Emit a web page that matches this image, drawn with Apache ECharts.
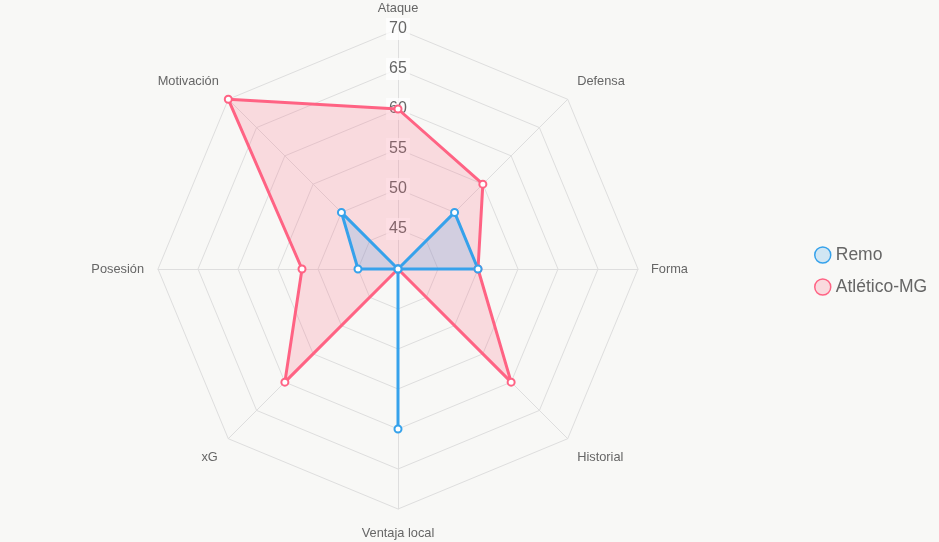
<!DOCTYPE html>
<html><head><meta charset="utf-8">
<script src="https://cdn.jsdelivr.net/npm/echarts@6/dist/echarts.min.js"></script>
<style>html,body{margin:0;padding:0;background:#f8f8f6}#c{width:939px;height:542px}</style>
</head><body><div id="c"></div>
<script>
// Clockwise order from top, as in the picture
const categories = ['Ataque','Defensa','Forma','Historial','Ventaja local','xG','Posesión','Motivación'];
const remo = [40, 50, 50, 40, 60, 40, 45, 50];
const atletico = [60, 55, 50, 60, 40, 60, 52, 70];
const tickLabels = [45, 50, 55, 60, 65, 70];
const axisMin = 40, axisMax = 70, axisStep = 5;

// ECharts radar goes counter-clockwise; reorder to keep clockwise layout
function ccw(arr){ return [arr[0]].concat(arr.slice(1).reverse()); }

// per-label nudges (padding) to mimic the reference label placement
const namePad = {
  'Ataque': [0,0,2,0], 'Defensa': [0,0,18,1], 'Forma': [0,0,0,1], 'Historial': [20,0,0,1],
  'Ventaja local': [6,0,0,0], 'xG': [20,2,0,0], 'Posesión': [0,2,0,0], 'Motivación': [0,1,18,0]
};
const rich = {};
categories.forEach((c, i) => {
  rich['n' + i] = {color: '#666', fontSize: 12.8, fontFamily: 'Liberation Sans, Arial', padding: namePad[c]};
});

const chart = echarts.init(document.getElementById('c'));
const center = [398, 269], radius = 240;
chart.setOption({
  backgroundColor: '#f8f8f6',
  animation: false,
  legend: {
    orient: 'vertical', left: 809, top: 241,
    itemWidth: 16, itemHeight: 16, itemGap: 14, icon: 'circle',
    textStyle: {color: '#666', fontSize: 17.5, fontFamily: 'Liberation Sans, Arial'},
    data: [
      {name: 'Remo', itemStyle: {color: 'rgba(54,162,235,0.2)', borderColor: '#36a2eb', borderWidth: 1.5}},
      {name: 'Atlético-MG', itemStyle: {color: 'rgba(255,99,132,0.2)', borderColor: '#ff6384', borderWidth: 1.5}}
    ]
  },
  radar: {
    center: center, radius: radius, startAngle: 90, shape: 'polygon', splitNumber: 6,
    indicator: ccw(categories).map(n => ({name: n, min: axisMin, max: axisMax})),
    axisName: {
      color: '#666', fontSize: 12.8, fontFamily: 'Liberation Sans, Arial', rich: rich,
      formatter: n => '{n' + categories.indexOf(n) + '|' + n + '}'
    },
    nameGap: 12,
    splitArea: {show: false},
    splitLine: {lineStyle: {color: '#dedede', width: 1}},
    axisLine: {lineStyle: {color: '#dedede', width: 1}},
    axisLabel: {show: false}
  },
  polar: {center: center, radius: [0, radius]},
  angleAxis: {show: false, startAngle: 90, min: 0, max: 360},
  radiusAxis: {
    type: 'value', min: axisMin, max: axisMax, interval: axisStep, z: 5,
    axisLine: {show: false}, axisTick: {show: false}, splitLine: {show: false},
    axisLabel: {
      showMinLabel: false, align: 'center', margin: 0, verticalAlign: 'middle',
      color: '#666', fontSize: 16, fontFamily: 'Liberation Sans, Arial',
      backgroundColor: 'rgba(255,255,255,0.75)', padding: [5, 3, 1, 3],
      formatter: v => tickLabels.indexOf(v) >= 0 ? String(v) : ''
    }
  },
  series: [{
    type: 'radar', z: 6,
    symbol: 'emptyCircle', symbolSize: 7,
    data: [
      {name: 'Atlético-MG', value: ccw(atletico),
       lineStyle: {color: '#ff6384', width: 3},
       itemStyle: {color: '#ff6384', borderColor: '#ff6384', borderWidth: 1},
       areaStyle: {color: 'rgba(255,99,132,0.2)', opacity: 1}},
      {name: 'Remo', value: ccw(remo),
       lineStyle: {color: '#36a2eb', width: 3},
       itemStyle: {color: '#36a2eb', borderColor: '#36a2eb', borderWidth: 1},
       areaStyle: {color: 'rgba(54,162,235,0.2)', opacity: 1}}
    ]
  }]
});
</script></body></html>
